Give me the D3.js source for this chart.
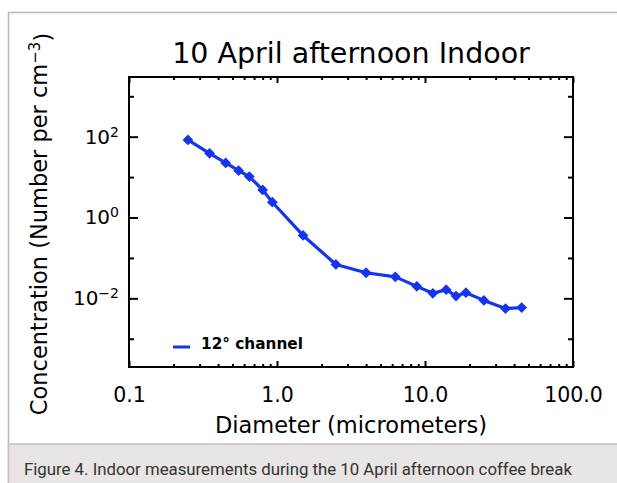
<!DOCTYPE html>
<html><head><meta charset="utf-8">
<script src="https://cdn.jsdelivr.net/npm/d3@7"></script>
<style>body{margin:0;background:#fff;} svg{display:block;}</style>
</head><body><svg id="c" width="617" height="483"></svg>
<script>
// ---- data ----
const diameters = [0.25,0.35,0.45,0.55,0.65,0.8,0.93,1.5,2.5,4,6.3,8.8,11.3,13.9,16.2,18.9,25,35,45];
const concentrations = [83,38.7,22.4,14.5,10.3,4.83,2.39,0.36,0.069,0.043,0.034,0.0198,0.0133,0.0164,0.0114,0.0138,0.0089,0.0056,0.0059];
const seriesName = "12\u00b0 channel";
const xMajorTicks = [0.1,1,10,100];
const xTickLabels = ["0.1","1.0","10.0","100.0"];
const xMinorTicks = [0.2,0.3,0.4,0.5,0.6,0.7,0.8,0.9,2,3,4,5,6,7,8,9,20,30,40,50,60,70,80,90];
const yMajorTicks = [1e-2,1,1e2];
const yTickExponents = ["\u22122","0","2"];
const yMinorTicks = [1e-3,1e-1,10,1e3];
const titleText = "10 April afternoon Indoor";
const xTitle = "Diameter (micrometers)";
const yTitle = "Concentration (Number per cm";
const caption = "Figure 4. Indoor measurements during the 10 April afternoon coffee break";

// ---- layout ----
const L = 129, R = 573, T = 77, B = 367;
const blue = "#1434f0";
const font = "'DejaVu Sans', sans-serif";
const svg = d3.select("#c");

// frame & caption area
svg.append("rect").attr("x",0).attr("y",0).attr("width",617).attr("height",483).attr("fill","#fff");
svg.append("rect").attr("x",8.5).attr("y",12.5).attr("width",640).attr("height",500)
  .attr("fill","#fff").attr("stroke","#bcb8b6").attr("stroke-width",1.5);
svg.append("rect").attr("x",8.5).attr("y",444).attr("width",640).attr("height",60)
  .attr("fill","#e8e5e4").attr("stroke","#c4c0be").attr("stroke-width",1.5);
svg.append("text").attr("x",24).attr("y",475).attr("font-family","Roboto, 'Liberation Sans', sans-serif")
  .attr("font-size",16.8).attr("fill","#333").text(caption);

const x = d3.scaleLog().domain([0.1,100]).range([L,R]);
const y = d3.scaleLog().domain([2e-4,3e3]).range([B,T]);

function styleAxis(g){
  g.select(".domain").remove();
  g.selectAll(".tick line").attr("stroke","#000").attr("stroke-width",2);
  g.selectAll("text").attr("font-family",font).attr("fill","#000");
}

// bottom axis
svg.append("g").attr("transform",`translate(0,${B})`)
  .call(d3.axisBottom(x).tickValues(xMajorTicks).tickSize(-6).tickSizeOuter(0).tickPadding(20)
    .tickFormat((d,i)=>xTickLabels[i]))
  .call(styleAxis).call(g=>g.selectAll("text").attr("font-size",20.5));
svg.append("g").attr("transform",`translate(0,${B})`)
  .call(d3.axisBottom(x).tickValues(xMinorTicks).tickSize(-3).tickSizeOuter(0).tickFormat(""))
  .call(styleAxis);
// top axis
svg.append("g").attr("transform",`translate(0,${T})`)
  .call(d3.axisTop(x).tickValues(xMajorTicks).tickSize(-6).tickSizeOuter(0).tickFormat(""))
  .call(styleAxis);
svg.append("g").attr("transform",`translate(0,${T})`)
  .call(d3.axisTop(x).tickValues(xMinorTicks).tickSize(-3).tickSizeOuter(0).tickFormat(""))
  .call(styleAxis);
// left axis
const ly = svg.append("g").attr("transform",`translate(${L},0)`)
  .call(d3.axisLeft(y).tickValues(yMajorTicks).tickSize(-9).tickSizeOuter(0).tickPadding(10))
  .call(styleAxis);
ly.selectAll(".tick text").each(function(d,i){
  const t = d3.select(this).text(null).attr("font-size",20);
  t.append("tspan").text("10");
  t.append("tspan").attr("dy","-0.5em").attr("font-size",14).text(yTickExponents[i]);
});
svg.append("g").attr("transform",`translate(${L},0)`)
  .call(d3.axisLeft(y).tickValues(yMinorTicks).tickSize(-5).tickSizeOuter(0).tickFormat(""))
  .call(styleAxis);
// right axis
svg.append("g").attr("transform",`translate(${R},0)`)
  .call(d3.axisRight(y).tickValues(yMajorTicks).tickSize(-9).tickSizeOuter(0).tickFormat(""))
  .call(styleAxis);
svg.append("g").attr("transform",`translate(${R},0)`)
  .call(d3.axisRight(y).tickValues(yMinorTicks).tickSize(-5).tickSizeOuter(0).tickFormat(""))
  .call(styleAxis);

// plot box
svg.append("rect").attr("x",L).attr("y",T).attr("width",R-L).attr("height",B-T)
  .attr("fill","none").attr("stroke","#000").attr("stroke-width",2);

// data line
const pts = diameters.map((d,i)=>[d,concentrations[i]]);
svg.append("path").datum(pts)
  .attr("d", d3.line().x(d=>x(d[0])).y(d=>y(d[1])))
  .attr("fill","none").attr("stroke",blue).attr("stroke-width",3.2).attr("stroke-linejoin","round");
svg.append("g").selectAll("path").data(pts).join("path")
  .attr("d", d3.symbol(d3.symbolSquare, 58))
  .attr("transform", d=>`translate(${x(d[0])},${y(d[1])}) rotate(45)`)
  .attr("fill",blue);

// legend
svg.append("line").attr("x1",173).attr("x2",190).attr("y1",347).attr("y2",347)
  .attr("stroke",blue).attr("stroke-width",3);
svg.append("text").attr("x",201).attr("y",349).attr("font-family",font).attr("font-weight","bold")
  .attr("font-size",15.3).attr("fill","#000").text(seriesName);

// titles
svg.append("text").attr("x",(L+R)/2).attr("y",63).attr("text-anchor","middle")
  .attr("font-family",font).attr("font-size",28.5).attr("fill","#000").text(titleText);
svg.append("text").attr("x",(L+R)/2).attr("y",433).attr("text-anchor","middle")
  .attr("font-family",font).attr("font-size",22.5).attr("fill","#000").text(xTitle);
const yt = svg.append("text").attr("transform",`translate(47,${(T+B)/2+2}) rotate(-90)`)
  .attr("text-anchor","middle").attr("font-family",font).attr("font-size",22.5).attr("fill","#000");
yt.append("tspan").text(yTitle);
yt.append("tspan").attr("dy","-0.5em").attr("font-size",15).text("\u22123");
yt.append("tspan").attr("dy","0.5em").text(")");
</script></body></html>
